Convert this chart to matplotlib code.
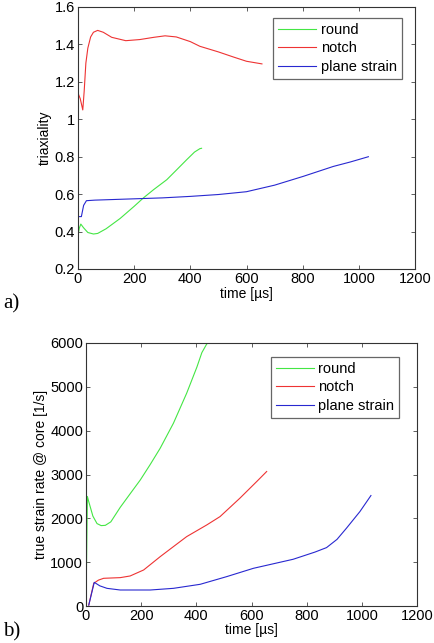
import matplotlib.pyplot as plt

plt.rcParams['font.family'] = ['Liberation Sans', 'DejaVu Sans']

# (a) triaxiality vs time [us]
round_t = [0, 5, 10, 20, 35, 55, 70, 100, 150, 200, 233, 270, 316, 350, 387, 415, 434, 440]
round_tri = [0.38, 0.42, 0.44, 0.42, 0.395, 0.387, 0.39, 0.415, 0.47, 0.535, 0.58, 0.625, 0.677, 0.728, 0.784, 0.825, 0.843, 0.845]

notch_t = [0, 8, 17, 22, 28, 35, 45, 55, 70, 90, 120, 170, 220, 270, 310, 350, 400, 434, 500, 553, 600, 655]
notch_tri = [1.14, 1.11, 1.05, 1.15, 1.3, 1.38, 1.44, 1.465, 1.475, 1.465, 1.438, 1.42, 1.426, 1.438, 1.446, 1.44, 1.415, 1.39, 1.36, 1.333, 1.31, 1.296]

plane_t = [0, 12, 20, 30, 60, 200, 300, 400, 500, 600, 700, 802, 909, 970, 1034]
plane_tri = [0.48, 0.48, 0.54, 0.565, 0.568, 0.575, 0.58, 0.588, 0.598, 0.613, 0.648, 0.695, 0.748, 0.772, 0.80]

# (b) true strain rate @ core vs time [us]
round_t2 = [0, 3, 5, 10, 25, 40, 55, 70, 90, 124, 160, 197, 233, 269, 317, 365, 402, 420, 438, 445]
round_rate = [0, 1500, 2500, 2380, 2050, 1880, 1834, 1840, 1920, 2250, 2560, 2877, 3230, 3600, 4170, 4855, 5450, 5780, 5981, 6000]

notch_t2 = [10, 28, 45, 64, 124, 160, 209, 269, 317, 365, 438, 486, 558, 619, 655]
notch_rate = [20, 518, 590, 632, 647, 685, 822, 1126, 1355, 1583, 1850, 2040, 2460, 2840, 3068]

plane_t2 = [10, 30, 50, 76, 124, 233, 317, 414, 510, 607, 751, 830, 872, 910, 944, 993, 1033]
plane_rate = [20, 540, 460, 403, 365, 365, 403, 495, 670, 860, 1066, 1230, 1332, 1520, 1773, 2154, 2520]

green = '#44e644'
red = '#ee3333'
blue = '#2828d0'

fig = plt.figure(figsize=(4.35, 6.43), dpi=100)
W, H = 435.0, 643.0

ax1 = fig.add_axes([78 / W, 1 - 269 / H, (415 - 78) / W, (269 - 7) / H])
ax1.plot(round_t, round_tri, color=green, lw=0.8, label='round')
ax1.plot(notch_t, notch_tri, color=red, lw=0.8, label='notch')
ax1.plot(plane_t, plane_tri, color=blue, lw=0.8, label='plane strain')
ax1.set_xlim(0, 1200)
ax1.set_ylim(0.2, 1.6)
ax1.set_yticks([0.2, 0.4, 0.6, 0.8, 1.0, 1.2, 1.4, 1.6])
ax1.set_yticklabels(['0.2', '0.4', '0.6', '0.8', '1', '1.2', '1.4', '1.6'])
ax1.set_ylabel('triaxiality', fontsize=10, labelpad=2)
ax1.set_xlabel('time [\u00b5s]', fontsize=10, labelpad=1)

ax2 = fig.add_axes([86 / W, 1 - 606 / H, (417 - 86) / W, (606 - 343) / H])
ax2.plot(round_t2, round_rate, color=green, lw=0.8, label='round')
ax2.plot(notch_t2, notch_rate, color=red, lw=0.8, label='notch')
ax2.plot(plane_t2, plane_rate, color=blue, lw=0.8, label='plane strain')
ax2.set_xlim(0, 1200)
ax2.set_ylim(0, 6000)
ax2.set_yticks([0, 1000, 2000, 3000, 4000, 5000, 6000])
ax2.set_ylabel('true strain rate @ core [1/s]', fontsize=10, labelpad=2)
ax2.set_xlabel('time [\u00b5s]', fontsize=10, labelpad=0)

anchors = [(0.961, 0.958), (0.946, 0.947)]
for ax, anc in zip((ax1, ax2), anchors):
    ax.set_xticks([0, 200, 400, 600, 800, 1000, 1200])
    ax.tick_params(direction='in', top=True, right=True, labelsize=10.5,
                   length=3, width=0.6, color='#444444', pad=2)
    for s in ax.spines.values():
        s.set_linewidth(0.8)
        s.set_color('#333333')
    leg = ax.legend(loc='upper right', fontsize=10.5, fancybox=False,
                    framealpha=1, borderpad=0.35, handlelength=2.6,
                    handletextpad=0.3, labelspacing=0.3,
                    bbox_to_anchor=anc, borderaxespad=0)
    leg.get_frame().set_edgecolor('#666666')
    leg.get_frame().set_linewidth(0.9)

fig.text(3 / W, 1 - 308 / H, 'a)', fontsize=15, family='Liberation Serif')
fig.text(3 / W, 1 - 636 / H, 'b)', fontsize=15, family='Liberation Serif')

fig.savefig('out.png', dpi=100)
